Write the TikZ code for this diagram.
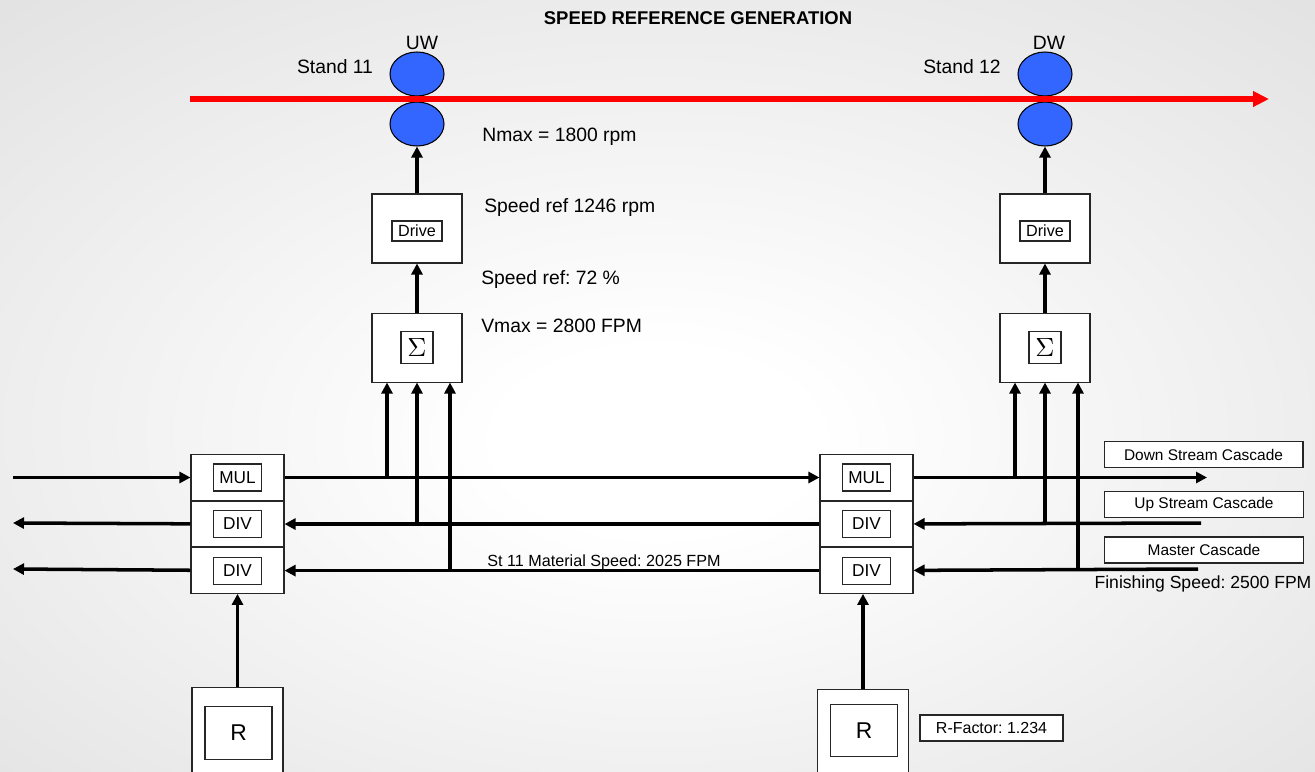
\documentclass[tikz,border=0pt]{standalone}
\usepackage{fontspec}
\setmainfont{Liberation Sans}
\frenchspacing
\usetikzlibrary{positioning, arrows.meta, shapes.geometric}
\pgfdeclareradialshading{slidebg}{\pgfpoint{0bp}{-4bp}}{color(0bp)=(white); color(6bp)=(white); color(72bp)=(black!24)}
\definecolor{rollblue}{RGB}{51,102,255}
\tikzset{
  block/.style={rectangle, draw=black!85, line width=0.6pt, fill=white, inner sep=0pt},
  tag/.style={rectangle, draw=black!85, line width=0.6pt, fill=white, inner sep=0pt},
  roll/.style={ellipse, draw=black, line width=0.6pt, fill=rollblue, minimum width=1.08cm, minimum height=0.88cm, inner sep=0pt},
  arrow/.style={line width=2pt, -{Triangle[length=0.22cm, width=0.22cm]}},
  txt/.style={inner sep=0pt, font=\fontsize{11}{13}\selectfont}
}

\begin{document}
\begin{tikzpicture}[
    x=0.02cm, y=-0.02cm,
    % Estilos de los bloques
    unit/.style={block, minimum width=1.8cm, minimum height=1.38cm},
    cell/.style={block, minimum width=1.86cm, minimum height=0.91cm},
    celltag/.style={tag, minimum width=0.96cm, minimum height=0.54cm, font=\fontsize{9.8}{11}\selectfont},
    drivetag/.style={tag, minimum width=1.0cm, minimum height=0.4cm, font=\fontsize{9.2}{10}\selectfont},
    sumtag/.style={tag, minimum width=0.64cm, minimum height=0.64cm},
    ratio/.style={block, minimum width=1.82cm, minimum height=2cm, anchor=north},
    ratiotag/.style={tag, minimum width=1.34cm, minimum height=1.05cm, font=\fontsize{13}{15}\selectfont},
    cascade/.style={tag, minimum width=3.98cm, minimum height=0.52cm, font=\fontsize{8.8}{10}\selectfont},
    strip/.style={red, line width=0.12cm, -{Triangle[length=0.32cm, width=0.3cm]}}
  ]

  % Fondo
  \shade[shading=slidebg] (0,0) rectangle (1315,771);
  \clip (0,0) rectangle (1315,771);

  \node (title) [txt, font=\fontsize{10.5}{12}\selectfont\bfseries] at (698,18) {SPEED REFERENCE GENERATION};

  % Cajas de laminacion
  \node (rollLt) [roll] at (417,74) {};
  \node (rollLb) [roll] at (417,124) {};
  \node (rollRt) [roll] at (1045,74) {};
  \node (rollRb) [roll] at (1045,124) {};
  \draw [strip] (190,99) -- (1269,99);

  \node (uw) [txt] at (422,43) {UW};
  \node (dw) [txt] at (1049,43) {DW};
  \node (standL) [txt] at (335,67) {Stand 11};
  \node (standR) [txt] at (962,67) {Stand 12};

  % Accionamientos y sumadores
  \node (driveL) [unit] at (417,228.5) {};
  \node [drivetag] at (driveL.center |- 0,231) {Drive};
  \node (sumL) [unit, below=0.98cm of driveL] {};
  \node [sumtag] at (sumL) {\scalebox{1.5}{$\Sigma$}};

  \node (driveR) [unit] at (1045,228.5) {};
  \node [drivetag] at (driveR.center |- 0,231) {Drive};
  \node (sumR) [unit, below=0.98cm of driveR] {};
  \node [sumtag] at (sumR) {\scalebox{1.5}{$\Sigma$}};

  \node (nmax) [txt, anchor=west] at (482,137) {Nmax = 1800 rpm};
  \node (spdrpm) [txt, anchor=west] at (484,207) {Speed ref 1246 rpm};
  \node (spdpct) [txt, anchor=west] at (481,279) {Speed ref: 72 \%};
  \node (vmax) [txt, anchor=west] at (481,326) {Vmax = 2800 FPM};

  % MUL / DIV
  \node (mulL) [cell] at (237.5,477.5) {};
  \node (divL1) [cell, below=0cm of mulL] {};
  \node (divL2) [cell, below=0cm of divL1] {};
  \node [celltag] at (mulL) {MUL};
  \node [celltag] at (divL1) {DIV};
  \node [celltag] at (divL2) {DIV};

  \node (mulR) [cell] at (866.5,477.5) {};
  \node (divR1) [cell, below=0cm of mulR] {};
  \node (divR2) [cell, below=0cm of divR1] {};
  \node [celltag] at (mulR) {MUL};
  \node [celltag] at (divR1) {DIV};
  \node [celltag] at (divR2) {DIV};

  % Factores R
  \node (rL) [ratio] at (237.5,687) {};
  \node [ratiotag] at (238.5,733) {R};
  \node (rR) [ratio] at (863,689) {};
  \node [ratiotag] at (864,730.5) {R};
  \node (rfac) [tag, minimum width=2.86cm, minimum height=0.52cm, font=\fontsize{9.1}{10}\selectfont] at (991.5,728) {R-Factor: 1.234};

  % Cascadas
  \node (dsc) [cascade] at (1203.5,454.5) {Down Stream Cascade};
  \node (usc) [cascade] at (1204,504.5) {Up Stream Cascade};
  \node (msc) [cascade] at (1204,550) {Master Cascade};
  \node (finish) [txt, font=\fontsize{10}{12}\selectfont] at (1203,584) {Finishing Speed: 2500 FPM};
  \node (matspd) [txt, font=\fontsize{9.2}{11}\selectfont] at (604,562) {St 11 Material Speed: 2025 FPM};

  % Puntos libres
  \coordinate (feedL) at (13,477.5);
  \coordinate (outL1) at (13,523);
  \coordinate (outL2) at (13,569);
  \coordinate (outR) at (1207,477.5);
  \coordinate (inR1) at (1201,523);
  \coordinate (inR2) at (1198,569);
  \coordinate (tapL1) at ([xshift=-0.6cm]sumL.south);
  \coordinate (tapL2) at (sumL.south);
  \coordinate (tapL3) at ([xshift=0.66cm]sumL.south);
  \coordinate (tapR1) at ([xshift=-0.6cm]sumR.south);
  \coordinate (tapR2) at (sumR.south);
  \coordinate (tapR3) at ([xshift=0.66cm]sumR.south);

  % Conexiones verticales
  \draw [arrow] (driveL) -- (rollLb);
  \draw [arrow] (sumL) -- (driveL);
  \draw [arrow] (driveR) -- (rollRb);
  \draw [arrow] (sumR) -- (driveR);
  \draw [arrow] (rL) -- (divL2);
  \draw [arrow] (rR.north) -- (rR.north |- divR2.south);

  % Buses
  \draw [arrow] (feedL) -- (mulL);
  \draw [arrow] (mulL) -- (mulR);
  \draw [arrow] (divR1) -- (divL1);
  \draw [arrow] (divR2) -- (divL2);
  \draw [arrow] (divL1) -- (outL1);
  \draw [arrow] (divL2) -- (outL2);
  \draw [arrow] (mulR) -- (outR);
  \draw [arrow] (inR1) -- (divR1);
  \draw [arrow] (inR2) -- (divR2);

  % Derivaciones hacia los sumadores
  \draw [arrow] (tapL1 |- mulL.east) -- (tapL1);
  \draw [arrow] (tapL2 |- divL1.east) -- (tapL2);
  \draw [arrow] (tapL3 |- divL2.east) -- (tapL3);
  \draw [arrow] (tapR1 |- mulR.east) -- (tapR1);
  \draw [arrow] (tapR2 |- divR1.east) -- (tapR2);
  \draw [arrow] (tapR3 |- divR2.east) -- (tapR3);

\end{tikzpicture}
\end{document}
